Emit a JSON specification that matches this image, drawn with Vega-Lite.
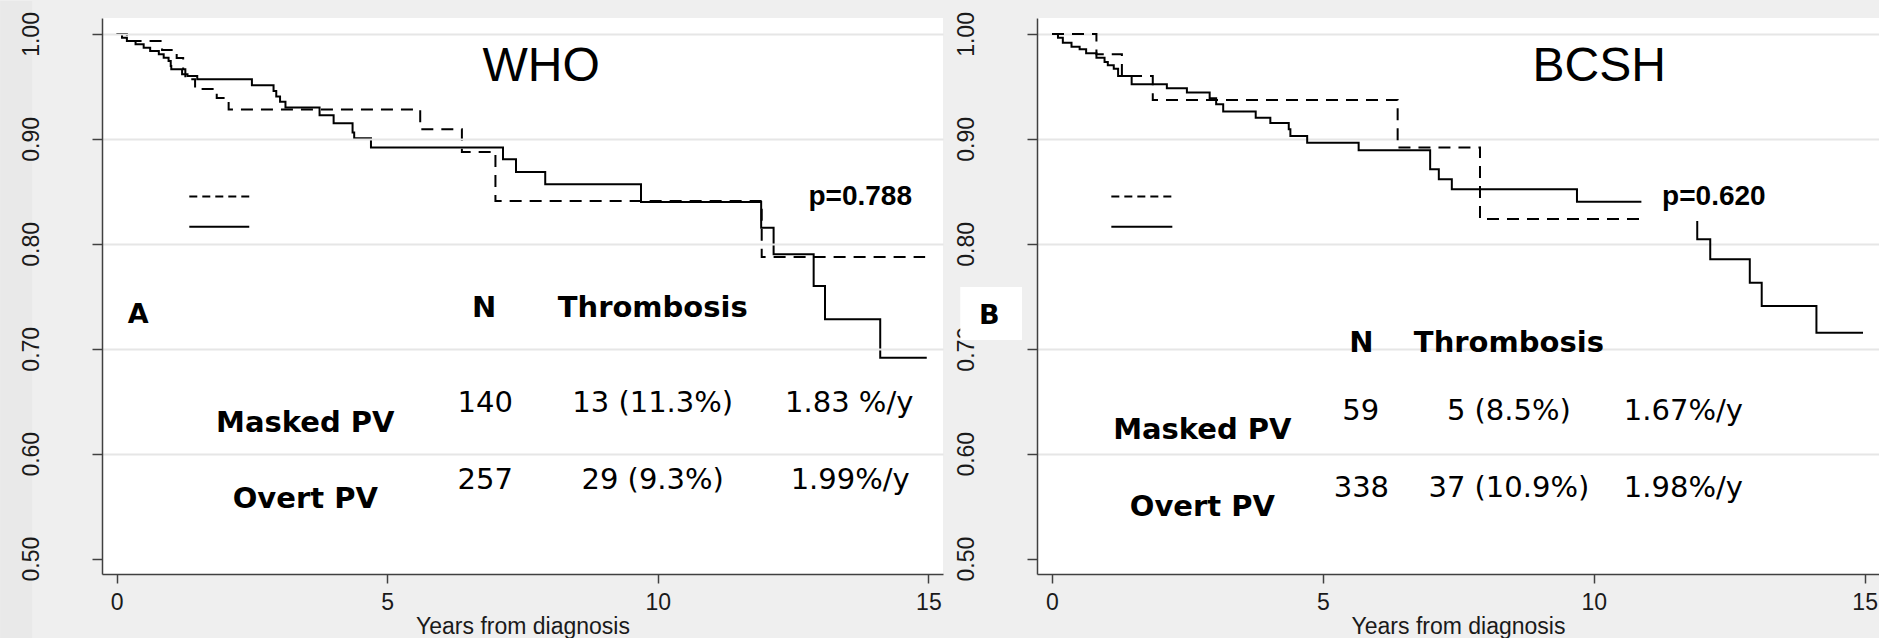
{
  "$schema": "https://vega.github.io/schema/vega-lite/v6.json",
  "padding": 0,
  "background": "#efefef",
  "spacing": 94,
  "bounds": "flush",
  "datasets": {
    "km": [
      {"panel":"WHO","group":"Overt PV","t":0,"s":1},
      {"panel":"WHO","group":"Overt PV","t":0.10,"s":0.9965},
      {"panel":"WHO","group":"Overt PV","t":0.19,"s":0.9933},
      {"panel":"WHO","group":"Overt PV","t":0.35,"s":0.9902},
      {"panel":"WHO","group":"Overt PV","t":0.50,"s":0.9869},
      {"panel":"WHO","group":"Overt PV","t":0.62,"s":0.9838},
      {"panel":"WHO","group":"Overt PV","t":0.78,"s":0.9807},
      {"panel":"WHO","group":"Overt PV","t":0.87,"s":0.9774},
      {"panel":"WHO","group":"Overt PV","t":0.96,"s":0.9743},
      {"panel":"WHO","group":"Overt PV","t":1.00,"s":0.9695},
      {"panel":"WHO","group":"Overt PV","t":1.01,"s":0.9664},
      {"panel":"WHO","group":"Overt PV","t":1.21,"s":0.9616},
      {"panel":"WHO","group":"Overt PV","t":1.31,"s":0.96},
      {"panel":"WHO","group":"Overt PV","t":1.49,"s":0.9568},
      {"panel":"WHO","group":"Overt PV","t":2.50,"s":0.9511},
      {"panel":"WHO","group":"Overt PV","t":2.90,"s":0.9457},
      {"panel":"WHO","group":"Overt PV","t":2.95,"s":0.9403},
      {"panel":"WHO","group":"Overt PV","t":3.02,"s":0.9353},
      {"panel":"WHO","group":"Overt PV","t":3.12,"s":0.9298},
      {"panel":"WHO","group":"Overt PV","t":3.75,"s":0.9225},
      {"panel":"WHO","group":"Overt PV","t":4.01,"s":0.9149},
      {"panel":"WHO","group":"Overt PV","t":4.36,"s":0.906},
      {"panel":"WHO","group":"Overt PV","t":4.39,"s":0.9006},
      {"panel":"WHO","group":"Overt PV","t":4.70,"s":0.8917},
      {"panel":"WHO","group":"Overt PV","t":7.14,"s":0.8806},
      {"panel":"WHO","group":"Overt PV","t":7.38,"s":0.8685},
      {"panel":"WHO","group":"Overt PV","t":7.92,"s":0.8568},
      {"panel":"WHO","group":"Overt PV","t":9.69,"s":0.8399},
      {"panel":"WHO","group":"Overt PV","t":11.91,"s":0.8154},
      {"panel":"WHO","group":"Overt PV","t":12.14,"s":0.79},
      {"panel":"WHO","group":"Overt PV","t":12.88,"s":0.7599},
      {"panel":"WHO","group":"Overt PV","t":13.09,"s":0.7281},
      {"panel":"WHO","group":"Overt PV","t":14.11,"s":0.6915},
      {"panel":"WHO","group":"Overt PV","t":14.97,"s":0.6915},
      {"panel":"WHO","group":"Masked PV","t":0,"s":1},
      {"panel":"WHO","group":"Masked PV","t":0.19,"s":0.9933},
      {"panel":"WHO","group":"Masked PV","t":0.84,"s":0.9848},
      {"panel":"WHO","group":"Masked PV","t":1.11,"s":0.9771},
      {"panel":"WHO","group":"Masked PV","t":1.23,"s":0.9664},
      {"panel":"WHO","group":"Masked PV","t":1.27,"s":0.9568},
      {"panel":"WHO","group":"Masked PV","t":1.45,"s":0.9476},
      {"panel":"WHO","group":"Masked PV","t":1.85,"s":0.939},
      {"panel":"WHO","group":"Masked PV","t":2.07,"s":0.9279},
      {"panel":"WHO","group":"Masked PV","t":5.61,"s":0.9092},
      {"panel":"WHO","group":"Masked PV","t":6.38,"s":0.8876},
      {"panel":"WHO","group":"Masked PV","t":7.00,"s":0.8409},
      {"panel":"WHO","group":"Masked PV","t":11.92,"s":0.7875},
      {"panel":"WHO","group":"Masked PV","t":14.94,"s":0.7875},
      {"panel":"BCSH","group":"Overt PV","t":0,"s":1},
      {"panel":"BCSH","group":"Overt PV","t":0.11,"s":0.9965},
      {"panel":"BCSH","group":"Overt PV","t":0.20,"s":0.9917},
      {"panel":"BCSH","group":"Overt PV","t":0.36,"s":0.9879},
      {"panel":"BCSH","group":"Overt PV","t":0.51,"s":0.9854},
      {"panel":"BCSH","group":"Overt PV","t":0.63,"s":0.9816},
      {"panel":"BCSH","group":"Overt PV","t":0.82,"s":0.9774},
      {"panel":"BCSH","group":"Overt PV","t":0.97,"s":0.9733},
      {"panel":"BCSH","group":"Overt PV","t":1.03,"s":0.9702},
      {"panel":"BCSH","group":"Overt PV","t":1.14,"s":0.9669},
      {"panel":"BCSH","group":"Overt PV","t":1.22,"s":0.96},
      {"panel":"BCSH","group":"Overt PV","t":1.47,"s":0.9521},
      {"panel":"BCSH","group":"Overt PV","t":2.12,"s":0.9483},
      {"panel":"BCSH","group":"Overt PV","t":2.49,"s":0.9441},
      {"panel":"BCSH","group":"Overt PV","t":2.91,"s":0.9387},
      {"panel":"BCSH","group":"Overt PV","t":3.03,"s":0.933},
      {"panel":"BCSH","group":"Overt PV","t":3.16,"s":0.926},
      {"panel":"BCSH","group":"Overt PV","t":3.76,"s":0.9202},
      {"panel":"BCSH","group":"Overt PV","t":4.03,"s":0.9152},
      {"panel":"BCSH","group":"Overt PV","t":4.37,"s":0.9092},
      {"panel":"BCSH","group":"Overt PV","t":4.40,"s":0.9028},
      {"panel":"BCSH","group":"Overt PV","t":4.71,"s":0.8964},
      {"panel":"BCSH","group":"Overt PV","t":5.66,"s":0.8892},
      {"panel":"BCSH","group":"Overt PV","t":6.98,"s":0.8711},
      {"panel":"BCSH","group":"Overt PV","t":7.14,"s":0.8615},
      {"panel":"BCSH","group":"Overt PV","t":7.38,"s":0.852},
      {"panel":"BCSH","group":"Overt PV","t":9.69,"s":0.8402},
      {"panel":"BCSH","group":"Overt PV","t":11.91,"s":0.8044},
      {"panel":"BCSH","group":"Overt PV","t":12.15,"s":0.7853},
      {"panel":"BCSH","group":"Overt PV","t":12.88,"s":0.763},
      {"panel":"BCSH","group":"Overt PV","t":13.10,"s":0.7408},
      {"panel":"BCSH","group":"Overt PV","t":14.11,"s":0.7154},
      {"panel":"BCSH","group":"Overt PV","t":14.97,"s":0.7154},
      {"panel":"BCSH","group":"Masked PV","t":0,"s":1},
      {"panel":"BCSH","group":"Masked PV","t":0.82,"s":0.9807},
      {"panel":"BCSH","group":"Masked PV","t":1.29,"s":0.96},
      {"panel":"BCSH","group":"Masked PV","t":1.86,"s":0.9371},
      {"panel":"BCSH","group":"Masked PV","t":6.38,"s":0.8918},
      {"panel":"BCSH","group":"Masked PV","t":7.90,"s":0.8237},
      {"panel":"BCSH","group":"Masked PV","t":10.88,"s":0.8237}
    ],
    "notes": [
      {"panel":"WHO","kind":"title","label":"WHO","t":7.846,"s":0.9552},
      {"panel":"WHO","kind":"pvalue","label":"p=0.788","t":13.74,"s":0.837},
      {"panel":"WHO","kind":"panel","label":"A","t":0.40,"s":0.7249},
      {"panel":"WHO","kind":"header","label":"N","t":6.79,"s":0.7300},
      {"panel":"WHO","kind":"header","label":"Thrombosis","t":9.906,"s":0.7300},
      {"panel":"WHO","kind":"header","label":"Masked PV","t":3.486,"s":0.621},
      {"panel":"WHO","kind":"header","label":"Overt PV","t":3.486,"s":0.548},
      {"panel":"WHO","kind":"value","label":"140","t":6.81,"s":0.6398},
      {"panel":"WHO","kind":"value","label":"13 (11.3%)","t":9.906,"s":0.6398},
      {"panel":"WHO","kind":"value","label":"1.83 %/y","t":13.537,"s":0.6398},
      {"panel":"WHO","kind":"value","label":"257","t":6.81,"s":0.5661},
      {"panel":"WHO","kind":"value","label":"29 (9.3%)","t":9.906,"s":0.5661},
      {"panel":"WHO","kind":"value","label":"1.99%/y","t":13.555,"s":0.5661},
      {"panel":"BCSH","kind":"title","label":"BCSH","t":10.10,"s":0.9552},
      {"panel":"BCSH","kind":"pvalue","label":"p=0.620","t":12.217,"s":0.837},
      {"panel":"BCSH","kind":"panel","label":"B","t":-1.157,"s":0.7234},
      {"panel":"BCSH","kind":"header","label":"N","t":5.71,"s":0.6973},
      {"panel":"BCSH","kind":"header","label":"Thrombosis","t":8.433,"s":0.6973},
      {"panel":"BCSH","kind":"header","label":"Masked PV","t":2.775,"s":0.6138},
      {"panel":"BCSH","kind":"header","label":"Overt PV","t":2.775,"s":0.5407},
      {"panel":"BCSH","kind":"value","label":"59","t":5.70,"s":0.6319},
      {"panel":"BCSH","kind":"value","label":"5 (8.5%)","t":8.433,"s":0.6319},
      {"panel":"BCSH","kind":"value","label":"1.67%/y","t":11.654,"s":0.6319},
      {"panel":"BCSH","kind":"value","label":"338","t":5.71,"s":0.5588},
      {"panel":"BCSH","kind":"value","label":"37 (10.9%)","t":8.433,"s":0.5588},
      {"panel":"BCSH","kind":"value","label":"1.98%/y","t":11.654,"s":0.5588}
    ]
  },
  "hconcat": [
    {
      "width": 841,
      "height": 556,
      "layer": [
        {
          "data": {"values": [{}]},
          "mark": {"type": "rect", "fill": "#e9e9e9"},
          "encoding": {
            "x": {"datum": -2.15, "type": "quantitative", "scale": {"domain": [-0.27, 15.27], "nice": false, "zero": false}},
            "x2": {"datum": -1.56},
            "y": {"datum": 1.0314, "type": "quantitative", "scale": {"domain": [0.4854, 1.0152], "nice": false, "zero": false}},
            "y2": {"datum": 0.4227}
          }
        },
        {
          "data": {"name": "km"},
          "transform": [{"filter": "datum.panel === 'WHO'"}],
          "mark": {"type": "line", "interpolate": "step-after", "color": "black", "strokeWidth": 2},
          "encoding": {
            "x": {"field": "t", "type": "quantitative", "scale": {"domain": [-0.27, 15.27], "nice": false, "zero": false},
                  "axis": {"title": "Years from diagnosis", "values": [0, 5, 10, 15], "format": "d"}},
            "y": {"field": "s", "type": "quantitative", "scale": {"domain": [0.4854, 1.0152], "nice": false, "zero": false},
                  "axis": {"title": null, "values": [0.5, 0.6, 0.7, 0.8, 0.9, 1.0], "format": ".2f", "grid": true, "zindex": 1,
                           "gridOpacity": {"condition": {"test": "datum.value < 0.55", "value": 0}, "value": 1}}},
            "strokeDash": {"field": "group", "type": "nominal", "scale": {"domain": ["Masked PV", "Overt PV"], "range": [[12, 8], [1, 0]]}, "legend": null}
          }
        },
        {
          "data": {"values": [{}]},
          "mark": {"type": "rule", "color": "black", "strokeWidth": 2, "strokeDash": [8, 5]},
          "encoding": {
            "x": {"datum": 1.343, "type": "quantitative", "scale": {"domain": [-0.27, 15.27], "nice": false, "zero": false}},
            "x2": {"datum": 2.451},
            "y": {"datum": 0.845, "type": "quantitative", "scale": {"domain": [0.4854, 1.0152], "nice": false, "zero": false}}
          }
        },
        {
          "data": {"values": [{}]},
          "mark": {"type": "rule", "color": "black", "strokeWidth": 2},
          "encoding": {
            "x": {"datum": 1.343, "type": "quantitative", "scale": {"domain": [-0.27, 15.27], "nice": false, "zero": false}},
            "x2": {"datum": 2.451},
            "y": {"datum": 0.8164, "type": "quantitative", "scale": {"domain": [0.4854, 1.0152], "nice": false, "zero": false}}
          }
        },
        {
          "data": {"name": "notes"},
          "transform": [{"filter": "datum.panel === 'WHO' && datum.kind === 'title'"}],
          "mark": {"type": "text", "font": "Liberation Sans", "fontSize": 48, "align": "center", "baseline": "alphabetic", "color": "black"},
          "encoding": {
            "x": {"field": "t", "type": "quantitative", "scale": {"domain": [-0.27, 15.27], "nice": false, "zero": false}},
            "y": {"field": "s", "type": "quantitative", "scale": {"domain": [0.4854, 1.0152], "nice": false, "zero": false}},
            "text": {"field": "label"}
          }
        },
        {
          "data": {"name": "notes"},
          "transform": [{"filter": "datum.panel === 'WHO' && datum.kind === 'pvalue'"}],
          "mark": {"type": "text", "font": "Liberation Sans", "fontSize": 28, "fontWeight": "bold", "align": "center", "baseline": "alphabetic", "color": "black"},
          "encoding": {
            "x": {"field": "t", "type": "quantitative", "scale": {"domain": [-0.27, 15.27], "nice": false, "zero": false}},
            "y": {"field": "s", "type": "quantitative", "scale": {"domain": [0.4854, 1.0152], "nice": false, "zero": false}},
            "text": {"field": "label"}
          }
        },
        {
          "data": {"name": "notes"},
          "transform": [{"filter": "datum.panel === 'WHO' && datum.kind === 'header'"}],
          "mark": {"type": "text", "font": "DejaVu Sans", "fontSize": 29, "fontWeight": "bold", "align": "center", "baseline": "alphabetic", "color": "black"},
          "encoding": {
            "x": {"field": "t", "type": "quantitative", "scale": {"domain": [-0.27, 15.27], "nice": false, "zero": false}},
            "y": {"field": "s", "type": "quantitative", "scale": {"domain": [0.4854, 1.0152], "nice": false, "zero": false}},
            "text": {"field": "label"}
          }
        },
        {
          "data": {"name": "notes"},
          "transform": [{"filter": "datum.panel === 'WHO' && datum.kind === 'value'"}],
          "mark": {"type": "text", "font": "DejaVu Sans", "fontSize": 29, "align": "center", "baseline": "alphabetic", "color": "black"},
          "encoding": {
            "x": {"field": "t", "type": "quantitative", "scale": {"domain": [-0.27, 15.27], "nice": false, "zero": false}},
            "y": {"field": "s", "type": "quantitative", "scale": {"domain": [0.4854, 1.0152], "nice": false, "zero": false}},
            "text": {"field": "label"}
          }
        },
        {
          "data": {"name": "notes"},
          "transform": [{"filter": "datum.panel === 'WHO' && datum.kind === 'panel'"}],
          "mark": {"type": "text", "font": "DejaVu Sans", "fontSize": 27, "fontWeight": "bold", "align": "center", "baseline": "alphabetic", "color": "black"},
          "encoding": {
            "x": {"field": "t", "type": "quantitative", "scale": {"domain": [-0.27, 15.27], "nice": false, "zero": false}},
            "y": {"field": "s", "type": "quantitative", "scale": {"domain": [0.4854, 1.0152], "nice": false, "zero": false}},
            "text": {"field": "label"}
          }
        }
      ]
    },
    {
      "width": 842,
      "height": 556,
      "layer": [
        {
          "data": {"name": "km"},
          "transform": [{"filter": "datum.panel === 'BCSH'"}],
          "mark": {"type": "line", "interpolate": "step-after", "color": "black", "strokeWidth": 2},
          "encoding": {
            "x": {"field": "t", "type": "quantitative", "scale": {"domain": [-0.277, 15.265], "nice": false, "zero": false},
                  "axis": {"title": "Years from diagnosis", "values": [0, 5, 10, 15], "format": "d"}},
            "y": {"field": "s", "type": "quantitative", "scale": {"domain": [0.4854, 1.0152], "nice": false, "zero": false},
                  "axis": {"title": null, "values": [0.5, 0.6, 0.7, 0.8, 0.9, 1.0], "format": ".2f", "grid": true,
                           "gridOpacity": {"condition": {"test": "datum.value < 0.55", "value": 0}, "value": 1}}},
            "strokeDash": {"field": "group", "type": "nominal", "scale": {"domain": ["Masked PV", "Overt PV"], "range": [[12, 7], [1, 0]]}, "legend": null}
          }
        },
        {
          "data": {"values": [{}]},
          "mark": {"type": "rule", "color": "black", "strokeWidth": 2, "strokeDash": [8, 5]},
          "encoding": {
            "x": {"datum": 1.095, "type": "quantitative", "scale": {"domain": [-0.277, 15.265], "nice": false, "zero": false}},
            "x2": {"datum": 2.221},
            "y": {"datum": 0.845, "type": "quantitative", "scale": {"domain": [0.4854, 1.0152], "nice": false, "zero": false}}
          }
        },
        {
          "data": {"values": [{}]},
          "mark": {"type": "rule", "color": "black", "strokeWidth": 2},
          "encoding": {
            "x": {"datum": 1.095, "type": "quantitative", "scale": {"domain": [-0.277, 15.265], "nice": false, "zero": false}},
            "x2": {"datum": 2.221},
            "y": {"datum": 0.8164, "type": "quantitative", "scale": {"domain": [0.4854, 1.0152], "nice": false, "zero": false}}
          }
        },
        {
          "data": {"values": [{}]},
          "mark": {"type": "rect", "fill": "white"},
          "encoding": {
            "x": {"datum": 10.879, "type": "quantitative", "scale": {"domain": [-0.277, 15.265], "nice": false, "zero": false}},
            "x2": {"datum": 13.556},
            "y": {"datum": 0.8656, "type": "quantitative", "scale": {"domain": [0.4854, 1.0152], "nice": false, "zero": false}},
            "y2": {"datum": 0.8218}
          }
        },
        {
          "data": {"values": [{}]},
          "mark": {"type": "rect", "fill": "white"},
          "encoding": {
            "x": {"datum": -1.693, "type": "quantitative", "scale": {"domain": [-0.277, 15.265], "nice": false, "zero": false}},
            "x2": {"datum": -0.554},
            "y": {"datum": 0.7589, "type": "quantitative", "scale": {"domain": [0.4854, 1.0152], "nice": false, "zero": false}},
            "y2": {"datum": 0.7084}
          }
        },
        {
          "data": {"name": "notes"},
          "transform": [{"filter": "datum.panel === 'BCSH' && datum.kind === 'title'"}],
          "mark": {"type": "text", "font": "Liberation Sans", "fontSize": 48, "align": "center", "baseline": "alphabetic", "color": "black"},
          "encoding": {
            "x": {"field": "t", "type": "quantitative", "scale": {"domain": [-0.277, 15.265], "nice": false, "zero": false}},
            "y": {"field": "s", "type": "quantitative", "scale": {"domain": [0.4854, 1.0152], "nice": false, "zero": false}},
            "text": {"field": "label"}
          }
        },
        {
          "data": {"name": "notes"},
          "transform": [{"filter": "datum.panel === 'BCSH' && datum.kind === 'pvalue'"}],
          "mark": {"type": "text", "font": "Liberation Sans", "fontSize": 28, "fontWeight": "bold", "align": "center", "baseline": "alphabetic", "color": "black"},
          "encoding": {
            "x": {"field": "t", "type": "quantitative", "scale": {"domain": [-0.277, 15.265], "nice": false, "zero": false}},
            "y": {"field": "s", "type": "quantitative", "scale": {"domain": [0.4854, 1.0152], "nice": false, "zero": false}},
            "text": {"field": "label"}
          }
        },
        {
          "data": {"name": "notes"},
          "transform": [{"filter": "datum.panel === 'BCSH' && datum.kind === 'header'"}],
          "mark": {"type": "text", "font": "DejaVu Sans", "fontSize": 29, "fontWeight": "bold", "align": "center", "baseline": "alphabetic", "color": "black"},
          "encoding": {
            "x": {"field": "t", "type": "quantitative", "scale": {"domain": [-0.277, 15.265], "nice": false, "zero": false}},
            "y": {"field": "s", "type": "quantitative", "scale": {"domain": [0.4854, 1.0152], "nice": false, "zero": false}},
            "text": {"field": "label"}
          }
        },
        {
          "data": {"name": "notes"},
          "transform": [{"filter": "datum.panel === 'BCSH' && datum.kind === 'value'"}],
          "mark": {"type": "text", "font": "DejaVu Sans", "fontSize": 29, "align": "center", "baseline": "alphabetic", "color": "black"},
          "encoding": {
            "x": {"field": "t", "type": "quantitative", "scale": {"domain": [-0.277, 15.265], "nice": false, "zero": false}},
            "y": {"field": "s", "type": "quantitative", "scale": {"domain": [0.4854, 1.0152], "nice": false, "zero": false}},
            "text": {"field": "label"}
          }
        },
        {
          "data": {"name": "notes"},
          "transform": [{"filter": "datum.panel === 'BCSH' && datum.kind === 'panel'"}],
          "mark": {"type": "text", "font": "DejaVu Sans", "fontSize": 27, "fontWeight": "bold", "align": "center", "baseline": "alphabetic", "color": "black"},
          "encoding": {
            "x": {"field": "t", "type": "quantitative", "scale": {"domain": [-0.277, 15.265], "nice": false, "zero": false}},
            "y": {"field": "s", "type": "quantitative", "scale": {"domain": [0.4854, 1.0152], "nice": false, "zero": false}},
            "text": {"field": "label"}
          }
        }
      ]
    }
  ],
  "config": {
    "view": {"fill": "white", "stroke": null},
    "axis": {
      "domainColor": "#404040", "domainWidth": 1.5,
      "tickColor": "#404040", "tickWidth": 1.5,
      "labelFont": "Liberation Sans", "labelFontSize": 23, "labelColor": "#1a1a1a",
      "titleFont": "Liberation Sans", "titleFontSize": 23, "titleFontWeight": "normal", "titleColor": "#1a1a1a",
      "labelFlush": false, "labelOverlap": false
    },
    "axisX": {"tickSize": 9, "labelPadding": 8, "titlePadding": 1, "grid": false},
    "axisY": {"tickSize": 10, "labelPadding": 54, "labelAngle": 270, "labelAlign": "center", "labelBaseline": "alphabetic",
              "gridColor": "#e6e6e6", "gridWidth": 2}
  }
}
